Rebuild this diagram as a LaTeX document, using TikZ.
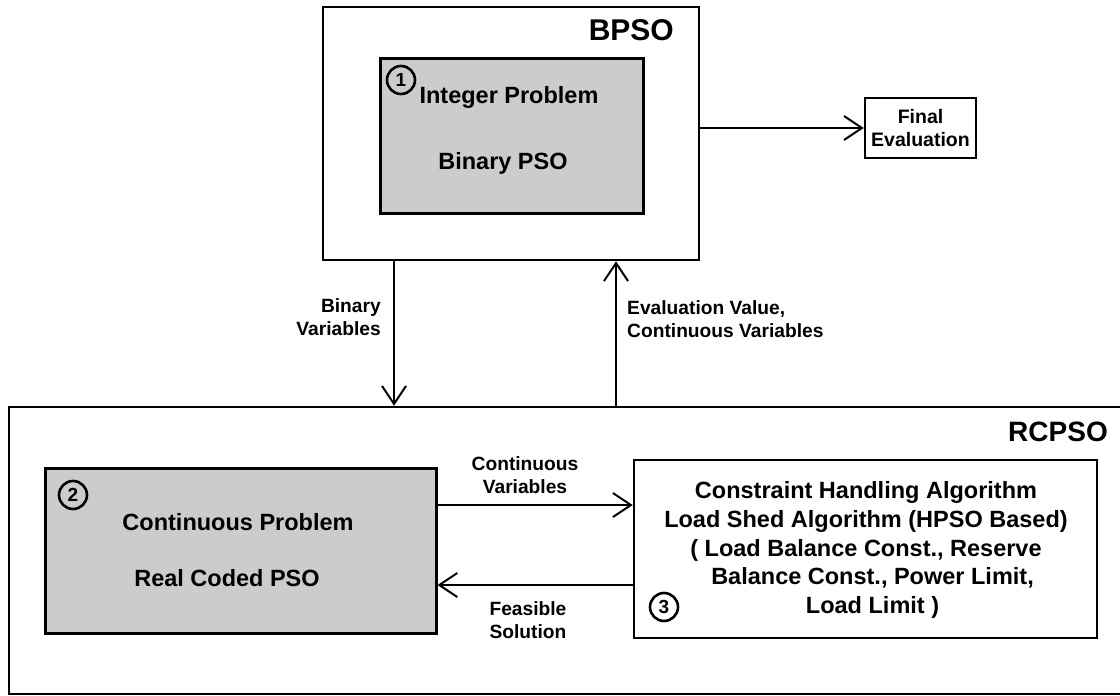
\documentclass[tikz,border=0pt]{standalone}
\usepackage{fontspec}
\setmainfont{Liberation Sans}
\usetikzlibrary{arrows.meta}
\tikzset{
  outerbox/.style={draw, line width=2.5pt, inner sep=0pt},
  shadebox/.style={draw, line width=3pt, fill=black!20, inner sep=0pt},
  plainbox/.style={draw, line width=2.5pt, fill=white, inner sep=0pt},
  boxtext/.style={font=\bfseries\fontsize{23.5}{28.6}\selectfont, align=center, inner sep=0pt},
  labeltext/.style={font=\bfseries\fontsize{19.2}{23.5}\selectfont, inner sep=0pt},
  titletext/.style={font=\bfseries\fontsize{28}{32}\selectfont, inner sep=0pt},
  numcirc/.style={circle, draw, line width=2.6pt, minimum size=28pt, inner sep=0pt, font=\bfseries\fontsize{19}{20}\selectfont},
  arr/.style={line width=2pt, -{Straight Barb[length=18pt,width=24pt,line width=2pt]}}
}
\begin{document}
\begin{tikzpicture}[x=1pt,y=-1pt]
\useasboundingbox (0,0) rectangle (1120,696);
\clip (0,0) rectangle (1120,696);
\fill[white] (0,0) rectangle (1120,696);

% BPSO
\node[outerbox, minimum width=376pt, minimum height=253pt] (bpso) at (511,133.5) {};
\node[titletext, font=\bfseries\fontsize{30}{32}\selectfont, anchor=east] (bpsot) at (674,30) {BPSO};
\node[shadebox, minimum width=263pt, minimum height=155pt] (box1) at (511.5,135.5) {};
\node[numcirc] (c1) at (401,80) {1};
\node[boxtext] (ip) at (509,97) {Integer Problem};
\node[boxtext] (bp) at (503,163) {Binary PSO};

% Final evaluation
\node[plainbox, minimum width=111pt, minimum height=60pt] (final) at (920.5,128) {};
\node[font=\bfseries\fontsize{19.5}{23}\selectfont, align=center, inner sep=0pt] (finalt) at (920.5,128) {Final\\Evaluation};

% RCPSO
\node[outerbox, minimum width=1131pt, minimum height=287pt] (rcpso) at (574.5,550.5) {};
\node[titletext, anchor=east] (rcpsot) at (1108,432) {RCPSO};
\node[shadebox, minimum width=391pt, minimum height=165pt] (box2) at (240.5,550.5) {};
\node[numcirc] (c2) at (73,495) {2};
\node[boxtext] (cp) at (238,522) {Continuous Problem};
\node[boxtext] (rc) at (227,578) {Real Coded PSO};

\node[plainbox, minimum width=463pt, minimum height=178pt] (box3) at (865.5,549) {};
\node[boxtext] (cha) at (866,550) {Constraint Handling Algorithm\\Load Shed Algorithm (HPSO Based)\\( Load Balance Const., Reserve\\\ \ Balance Const., Power Limit,\\\ \ Load Limit )};
\node[numcirc] (c3) at (664,607) {3};

% connectors
\coordinate (binx) at (394,0);
\coordinate (evx) at (616,0);
\coordinate (cy) at (0,505);
\coordinate (fy) at (0,585);
\draw[arr] (bpso.south -| binx) -- (rcpso.north -| binx);
\draw[arr] (rcpso.north -| evx) -- (bpso.south -| evx);
\draw[arr] (bpso.east |- final) -- (final.west);
\draw[arr] (box2.east |- cy) -- (box3.west |- cy);
\draw[arr] (box3.west |- fy) -- (box2.east |- fy);

% labels
\node[labeltext, anchor=east, align=right] (binl) at (381,317) {Binary\\Variables};
\node[labeltext, anchor=west, align=left] (evl) at (627,319) {Evaluation Value,\\Continuous Variables};
\node[labeltext, align=center] (cvl) at (525,475) {Continuous\\Variables};
\node[labeltext, align=center] (fsl) at (528,620) {Feasible\\Solution};
\end{tikzpicture}
\end{document}
